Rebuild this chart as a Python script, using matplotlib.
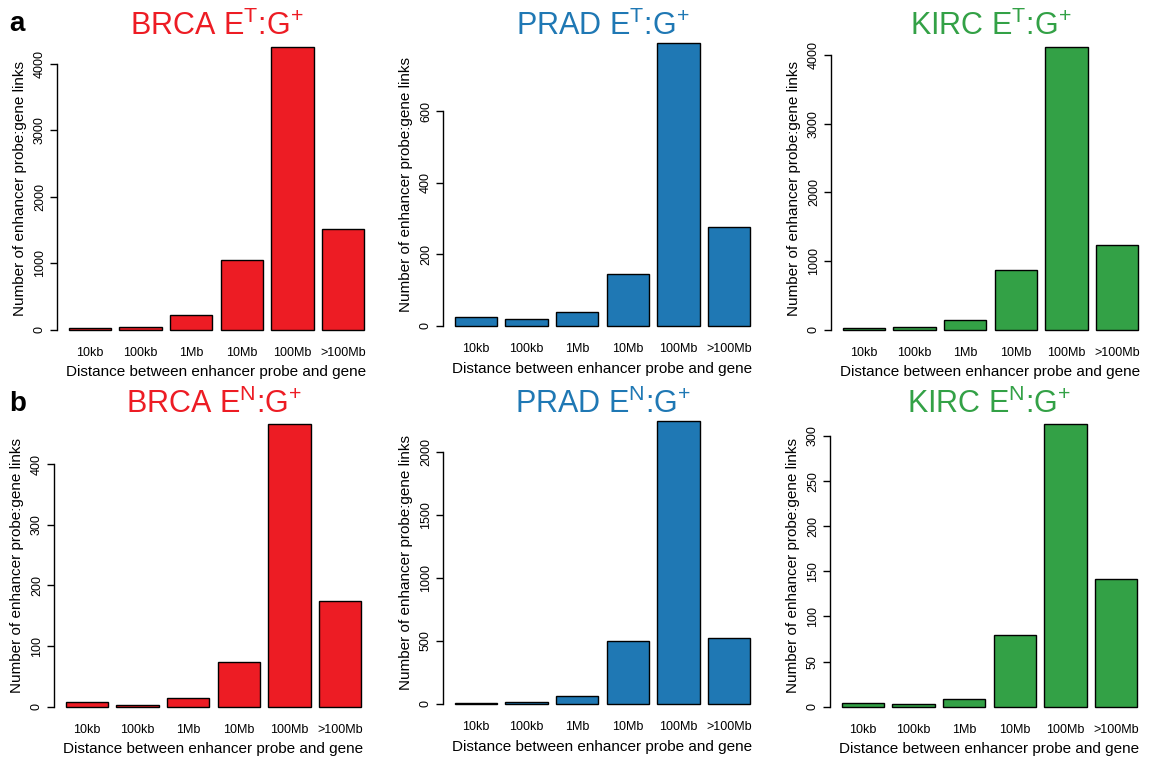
import numpy as np
import matplotlib
matplotlib.use('Agg')
import matplotlib.pyplot as plt

plt.rcParams['font.family'] = ['Liberation Sans', 'DejaVu Sans']
plt.rcParams['mathtext.fontset'] = 'custom'
plt.rcParams['mathtext.rm'] = 'Liberation Sans'
plt.rcParams['mathtext.it'] = 'Liberation Sans'

# data
distances = ['10kb', '100kb', '1Mb', '10Mb', '100Mb', '>100Mb']
brca_t = [20, 35, 225, 1050, 4250, 1520]
prad_t = [23, 20, 37, 146, 790, 277]
kirc_t = [29, 39, 141, 868, 4113, 1232]
brca_n = [8, 2, 15, 74, 466, 174]
prad_n = [8, 16, 63, 499, 2240, 518]
kirc_n = [4, 3, 9, 79, 313, 141]

titles = ['BRCA E$^{\\mathrm{T}}$:G$^{+}$', 'PRAD E$^{\\mathrm{T}}$:G$^{+}$', 'KIRC E$^{\\mathrm{T}}$:G$^{+}$',
          'BRCA E$^{\\mathrm{N}}$:G$^{+}$', 'PRAD E$^{\\mathrm{N}}$:G$^{+}$', 'KIRC E$^{\\mathrm{N}}$:G$^{+}$']
series = [brca_t, prad_t, kirc_t, brca_n, prad_n, kirc_n]
ytick_step = [1000, 200, 1000, 100, 500, 50]

red = '#ED1C24'
blue = '#1F78B4'
green = '#33A146'
colors = [red, blue, green, red, blue, green]

W, H = 1153, 762
fig = plt.figure(figsize=(W / 100, H / 100), dpi=100)

lefts = [57, 443, 831, 54, 443, 830]
tops = [36, 32, 36, 413, 410, 413]
aw, ah = 319, 305
title_base = [35, 35, 35, 413, 413, 413]

x = 0.7 + 1.2 * np.arange(len(distances))

for i in range(6):
    vals = np.array(series[i])
    ax = fig.add_axes([lefts[i] / W, 1 - (tops[i] + ah) / H, aw / W, ah / H])
    ax.bar(x, vals, width=1.0, color=colors[i], edgecolor='black', linewidth=1.0)
    m = vals.max()
    ax.set_xlim(-0.08, 7.48)
    ax.set_ylim(-0.04 * m, 1.04 * m)
    ticks = np.arange(0, m + 1, ytick_step[i])
    ax.set_yticks(ticks)
    ax.set_yticklabels([str(int(t)) for t in ticks], rotation=90, va='center', fontsize=9)
    for s in ['top', 'right', 'bottom']:
        ax.spines[s].set_visible(False)
    ax.spines['left'].set_bounds(0, ticks[-1])
    ax.spines['left'].set_linewidth(1.0)
    ax.tick_params(axis='y', length=5, width=1.0, pad=3)
    ax.set_xticks(x)
    ax.set_xticklabels(distances, fontsize=9)
    ax.tick_params(axis='x', length=0, pad=4)
    ax.set_xlabel('Distance between enhancer probe and gene', fontsize=11, labelpad=5)
    ax.set_ylabel('Number of enhancer probe:gene links', fontsize=11, labelpad=5)
    fig.text((lefts[i] + aw / 2) / W, 1 - title_base[i] / H, titles[i],
             color=colors[i], fontsize=22, ha='center', va='baseline')

fig.text(9 / W, 1 - 31 / H, 'a', fontsize=20, fontweight='bold', va='baseline')
fig.text(9 / W, 1 - 411 / H, 'b', fontsize=20, fontweight='bold', va='baseline')

fig.savefig('out.png', dpi=100)
